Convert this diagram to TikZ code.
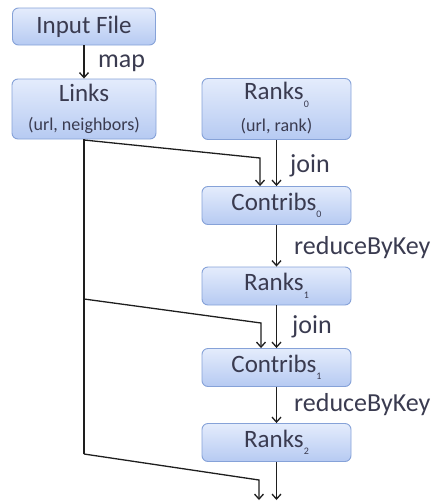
\documentclass[tikz,border=0pt]{standalone}
\usepackage{fontspec}
\setmainfont{Carlito}
\usetikzlibrary{arrows.meta}
\definecolor{boxtop}{HTML}{E4ECFC}
\definecolor{boxbot}{HTML}{B6CAF2}
\definecolor{boxline}{HTML}{86A2D8}
\definecolor{txt}{HTML}{3A3B50}
\definecolor{linec}{HTML}{1E1E1E}
\newcommand{\sbs}[1]{\raisebox{-0.3em}{\fontsize{10}{10}\selectfont #1}}
\begin{document}
\begin{tikzpicture}[x=1pt,y=-1pt,
  box/.style={draw=boxline, line width=0.9pt, rounded corners=6pt, top color=boxtop, bottom color=boxbot, minimum width=149pt, minimum height=38pt, inner sep=0pt},
  main/.style={text=txt, font=\fontsize{25}{27}\selectfont, inner sep=0pt},
  sub/.style={text=txt, font=\fontsize{18}{20}\selectfont, inner sep=0pt},
  lbl/.style={text=txt, font=\fontsize{26}{28}\selectfont, inner sep=0pt, anchor=west},
  wire/.style={draw=linec, line width=1.3pt},
  conn/.style={wire, -{Straight Barb[length=5pt,width=9pt,line width=1.3pt]}}
]
\useasboundingbox (0,0) rectangle (431,504);
% left column
\node[box, minimum width=143pt, minimum height=37pt] (in) at (84,26.5) {};
\node[main] (intxt) at (84,26.5) {Input File};
\node[box, minimum width=144pt, minimum height=60pt] (links) at (84,109) {};
\node[main] (linkst) at (84,93) {Links};
\node[sub] (linkss) at (84,125) {(url, neighbors)};
% right column
\node[box, minimum height=61pt] (r0) at (276.5,109) {};
\node[main] (r0t) at (276.5,95) {Ranks\sbs{0}};
\node[sub] (r0s) at (276.5,126) {(url, rank)};
\node[box] (c0) at (276.5,205.5) {};
\node[main] (c0t) at (276.5,205.5) {Contribs\sbs{0}};
\node[box] (r1) at (276.5,286) {};
\node[main] (r1t) at (276.5,286) {Ranks\sbs{1}};
\node[box] (c1) at (276.5,367.5) {};
\node[main] (c1t) at (276.5,367.5) {Contribs\sbs{1}};
\node[box] (r2) at (276.5,442.5) {};
\node[main] (r2t) at (276.5,442.5) {Ranks\sbs{2}};
% labels
\node[lbl] (lmap) at (98,63) {map};
\node[lbl] (lj0) at (290,166) {join};
\node[lbl] (lr0) at (294,248) {reduceByKey};
\node[lbl] (lj1) at (292,327) {join};
\node[lbl] (lr1) at (294,405) {reduceByKey};
% coordinates
\coordinate (lb1) at (84,140);
\coordinate (k1) at (260,158);
\coordinate (lb2) at (84,299);
\coordinate (k2) at (261,323);
\coordinate (lb3) at (84,454);
\coordinate (k3) at (259,480);
\coordinate (e3) at (259,500);
\coordinate (er) at (276.5,500);
% connectors
\draw[conn] (in) -- (links);
\draw[conn] (r0) -- (c0);
\draw[conn] (c0) -- (r1);
\draw[conn] (r1) -- (c1);
\draw[conn] (c1) -- (r2);
\draw[conn] (r2) -- (er);
\draw[wire] (links.south) -- (lb3);
\draw[conn] (lb1) -- (k1) -- (k1 |- c0.north);
\draw[conn] (lb2) -- (k2) -- (k2 |- c1.north);
\draw[conn] (lb3) -- (k3) -- (e3);
\end{tikzpicture}
\end{document}
